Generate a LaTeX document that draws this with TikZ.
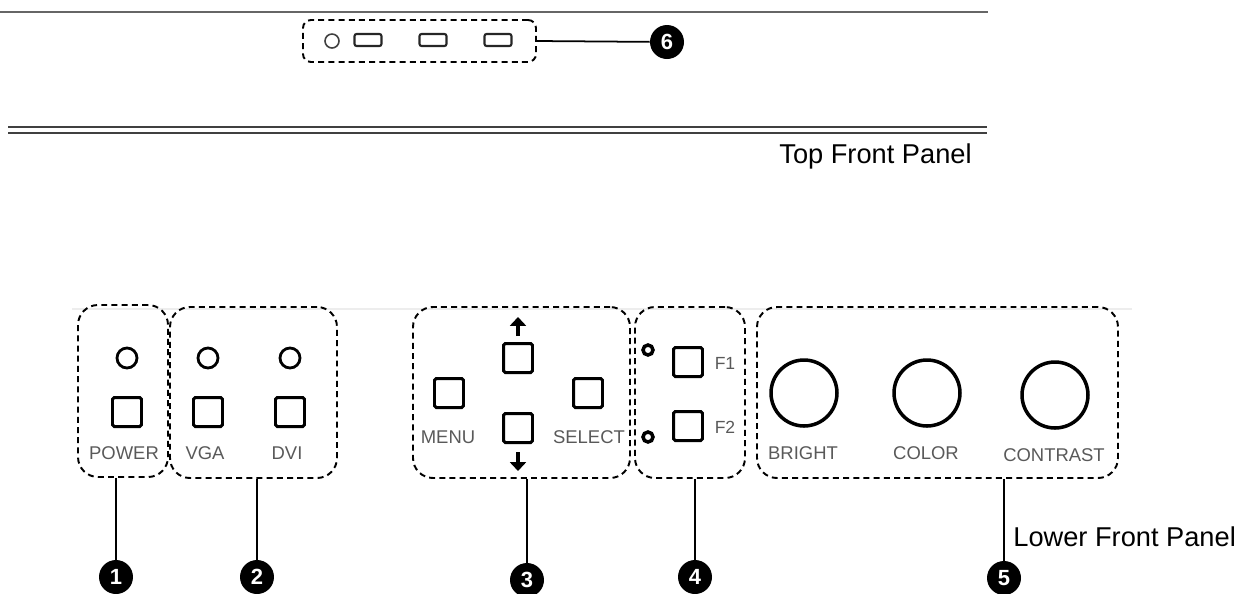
\documentclass[tikz,border=0pt]{standalone}
\usepackage{fontspec}
\setmainfont{Liberation Sans}
\usepackage{tikz}
\usetikzlibrary{arrows.meta,calc}

\begin{document}
\begin{tikzpicture}[x=0.02cm,y=-0.02cm,
    group/.style={draw, dash pattern=on 3.4pt off 2.4pt, line width=1.1pt, rounded corners=0.4cm, inner sep=0pt},
    key/.style={draw, line width=1.7pt, rounded corners=1pt, minimum size=0.58cm, inner sep=0pt},
    led/.style={draw, circle, line width=1.6pt, minimum size=0.4cm, inner sep=0pt},
    knob/.style={draw, circle, line width=2pt, minimum size=1.32cm, inner sep=0pt},
    badge/.style={circle, fill=black, text=white, font=\fontsize{12.5}{13}\selectfont\bfseries, minimum size=0.68cm, inner sep=0pt},
    lbl/.style={text=black!65, font=\fontsize{10.5}{12}\selectfont, inner sep=0pt, anchor=base},
    panel/.style={font=\fontsize{15.5}{17}\selectfont, inner sep=0pt},
    leader/.style={line width=1pt}]
    \useasboundingbox (0,0) rectangle (1245,593);

    % Top front panel
    \draw[black!60, line width=1.2pt] (0,12) -- (988,12);
    \draw[black!75, line width=1.6pt] (8,127) -- (987,127);
    \draw[black!75, line width=1.6pt] (8,133) -- (987,133);
    \node[panel, anchor=base east] (toplbl) at (972,163) {Top Front Panel};

    % Top connectors
    \node[group, rounded corners=0.16cm, minimum width=233*0.02cm, minimum height=42*0.02cm] (grp6) at (419.5,41) {};
    \node[draw, circle, black!75, line width=0.9pt, minimum size=0.28cm, inner sep=0pt] (tled) at (332,41) {};
    \foreach \n/\sx in {1/368, 2/433, 3/498} {
        \node[draw, black!85, line width=1.2pt, rounded corners=1.2pt, minimum width=0.54cm, minimum height=0.24cm, inner sep=0pt] (slot\n) at (\sx,40) {};
    }
    \node[badge] (num6) at (667,42) {6};
    \draw[leader] (grp6.east) -- (num6);

    % Lower front panel
    \draw[black!7, line width=0.6pt] (72,309) -- (1132,309);
    \foreach \n/\cx/\cy/\w/\h in {1/123/391/90/172, 2/253.5/392.5/167/171, 3/521.5/392.5/217/171, 4/690/392.5/110/171, 5/937.5/392.5/361/171} {
        \node[group, minimum width=\w*0.02cm, minimum height=\h*0.02cm] (grp\n) at (\cx,\cy) {};
    }

    % Power, VGA, DVI
    \foreach \n/\bx/\name in {power/127/POWER, vga/208/VGA, dvi/290/DVI} {
        \node[led] (led\n) at (\bx,358) {};
        \node[key] (key\n) at (\bx,412) {};
        \node[lbl] (lbl\n) at (\bx-3,459) {\name};
    }

    % Menu keys
    \node[key] (kup) at (518,358) {};
    \node[key] (kdown) at (518,428) {};
    \node[key] (kmenu) at (449,393) {};
    \node[key] (kselect) at (588,393) {};
    \node[lbl] (lblmenu) at (448,443) {MENU};
    \node[lbl] (lblselect) at (589,443) {SELECT};
    \draw[line width=1.8pt, -{Triangle[width=9pt,length=5pt]}] (518,336) -- (518,317);
    \draw[line width=1.8pt, -{Triangle[width=9pt,length=5pt]}] (518,452) -- (518,471);

    % Function keys
    \foreach \n/\fy/\ly in {1/362/350, 2/426/437} {
        \node[draw, circle, line width=2pt, minimum size=0.2cm, inner sep=0pt] (fled\n) at (648,\ly) {};
        \node[key] (kf\n) at (688,\fy) {};
        \node[lbl, font=\fontsize{10}{12}\selectfont] (lblf\n) at (725,\fy+7) {F\n};
    }

    % Knobs
    \foreach \n/\kx/\ky/\name in {bright/804/393/BRIGHT, color/927/393/COLOR, contrast/1055/395/CONTRAST} {
        \node[knob] (knob\n) at (\kx,\ky) {};
        \node[lbl] (lbl\n) at (\kx-1,\ky+66) {\name};
    }

    % Numbered callouts
    \foreach \n/\bx/\by in {1/116/577, 2/257/577, 3/527/580, 4/695/577, 5/1004/578} {
        \node[badge] (num\n) at (\bx,\by) {\n};
        \draw[leader] (grp\n.south -| num\n) -- (num\n);
    }
    \node[panel, anchor=base west] (lowlbl) at (1013,546) {Lower Front Panel};
\end{tikzpicture}
\end{document}
